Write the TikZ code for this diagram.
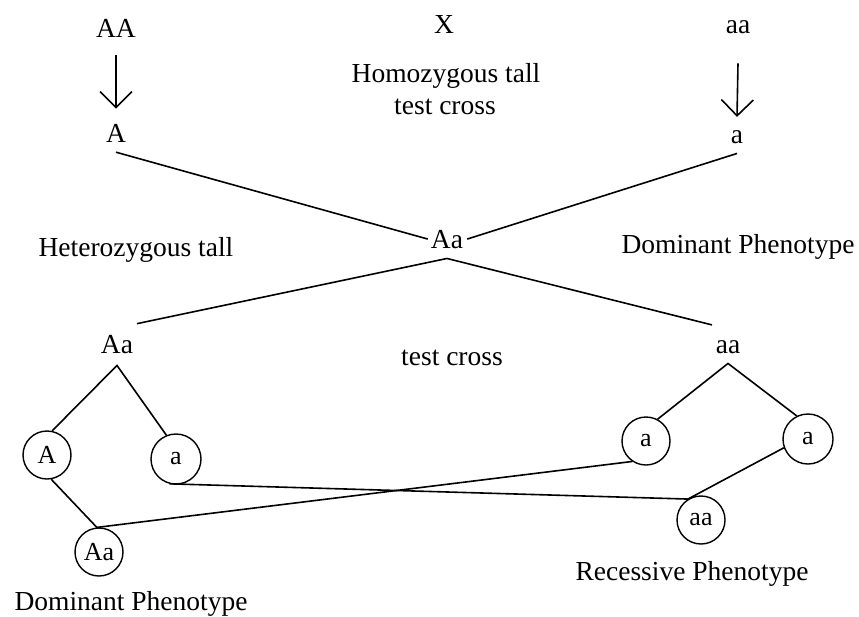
\documentclass[tikz,border=0pt]{standalone}
\usepackage{fontspec}
\setmainfont{Liberation Serif}
\usetikzlibrary{arrows.meta}
\begin{document}
\begin{tikzpicture}[x=1pt,y=-1pt,
  lbl/.style={inner sep=0pt, anchor=base, font=\fontsize{27.5}{30}\selectfont},
  circ/.style={circle, draw, line width=1.4pt, minimum size=48pt, inner sep=0pt, font=\fontsize{26}{28}\selectfont},
  ln/.style={line width=1.6pt},
  arr/.style={line width=1.6pt, -{Straight Barb[length=16pt,width=32pt,line width=1.6pt]}}]
\useasboundingbox[fill=white] (0,0) rectangle (859,616);
% top row
\node[lbl] (AA) at (116,37) {AA};
\node[lbl] (X) at (444,33) {X};
\node[lbl] (homo) at (446,82) {Homozygous tall};
\node[lbl] (tc1) at (445,114) {test cross};
\node[lbl] (aa) at (738,33) {aa};
\node[lbl] (A) at (116,142) {A};
\node[lbl] (a) at (737,143) {a};
% middle
\node[lbl] (Aa) at (447,248) {Aa};
\node[lbl] (het) at (136,256) {Heterozygous tall};
\node[lbl] (dom1) at (738,253) {Dominant Phenotype};
\node[lbl] (Aa2) at (117,353) {Aa};
\node[lbl] (tc2) at (452,365) {test cross};
\node[lbl] (aa2) at (728,353) {aa};
% circles
\node[circ] (cA) at (47,455) {A};
\node[circ, minimum size=50pt] (ca1) at (176,459) {a};
\node[circ] (cAa) at (99,552) {Aa};
\node[circ] (cr1) at (646,441) {a};
\node[circ, minimum size=50pt] (cr2) at (808,439) {a};
\node[circ] (caa) at (701,520) {aa};
\node[lbl] (rec) at (692,580) {Recessive Phenotype};
\node[lbl] (dom2) at (131,610) {Dominant Phenotype};
% arrows
\draw[arr] ([yshift=-18pt]AA.south) -- ([yshift=15pt]A.north);
\draw[arr] ([yshift=-30pt]aa.south) -- ([yshift=13pt]a.north);
% cross lines
\draw[ln] ([yshift=-10pt]A.south) -- ([xshift=-3pt]Aa.west);
\draw[ln] ([yshift=-10pt]a.south) -- ([xshift=4pt]Aa.east);
\draw[ln] ([xshift=20pt,yshift=11pt]Aa2.north) -- ([yshift=-10pt]Aa.south) -- ([xshift=-16pt,yshift=15pt]aa2.north);
% trees
\draw[ln] (cA.78) -- ([yshift=-12pt]Aa2.south) -- (ca1.112);
\draw[ln] (cr1.62) -- ([yshift=-10pt]aa2.south) -- (cr2.116);
% offspring lines
\draw[ln] (cA.-80) -- (cAa.95) -- (cr1.-124);
\draw[ln] (ca1.-105) -- (caa.122);
\draw[ln] (cr2.200) -- (caa.122);
\end{tikzpicture}
\end{document}
